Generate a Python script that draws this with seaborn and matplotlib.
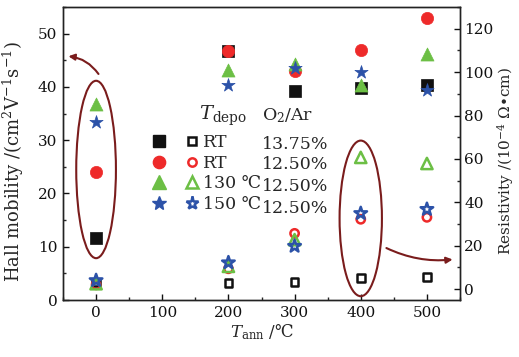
import numpy as np
import pandas as pd
import matplotlib
matplotlib.use("Agg")
import matplotlib.pyplot as plt
import seaborn as sns
from matplotlib.patches import Ellipse
from matplotlib.lines import Line2D
from matplotlib.legend_handler import HandlerTuple
from matplotlib.ticker import MultipleLocator

# ---------------- data ----------------
t_ann = [0, 200, 300, 400, 500]

# Hall mobility (left axis, filled markers)
mob_rt1375 = [11.7, 46.8, 39.2, 39.8, 40.4]
mob_rt1250 = [24.1, 46.8, 43.0, 47.0, 53.0]
mob_130 = [36.7, 43.2, 44.3, 40.3, 46.2]
mob_150 = [33.4, 40.3, 43.6, 42.8, 39.5]

# Resistivity (right axis, open markers)
res_rt1375 = [3.0, 2.8, 3.2, 5.0, 5.5]
res_rt1250 = [2.0, 9.4, 25.7, 32.2, 33.1]
res_130 = [2.5, 10.5, 22.8, 60.7, 57.9]
res_150 = [4.0, 12.2, 19.8, 34.9, 36.8]

series_names = ["RT", "RT", "130 \u2103", "150 \u2103"]
o2_ratio = ["13.75%", "12.50%", "12.50%", "12.50%"]
colors = ["#111111", "#ee2a2a", "#6cbf45", "#2c52a8"]
markers = ["s", "o", "^", "*"]
fill_sizes = [78, 78, 88, 100]
open_sizes = [30, 36, 66, 90]

x_ticks = [0, 100, 200, 300, 400, 500]
left_ticks = [0, 10, 20, 30, 40, 50]
right_ticks = [0, 20, 40, 60, 80, 100, 120]

mob = [mob_rt1375, mob_rt1250, mob_130, mob_150]
res = [res_rt1375, res_rt1250, res_130, res_150]

# ---------------- style ----------------
sns.set_style("ticks")
plt.rcParams["font.family"] = ["DejaVu Serif", "DejaVu Sans"]
plt.rcParams["mathtext.fontset"] = "dejavuserif"
plt.rcParams["font.size"] = 12

fig = plt.figure(figsize=(5.19, 3.57), dpi=100)
ax = fig.add_axes([63 / 519, 57 / 357, 397 / 519, 293 / 357])
ax2 = ax.twinx()

ec_dark = "#7a1c1c"

for i in range(4):
    df = pd.DataFrame({"T": t_ann, "mob": mob[i], "res": res[i]})
    sns.scatterplot(data=df, x="T", y="mob", ax=ax, marker=markers[i],
                    s=fill_sizes[i], color=colors[i], edgecolor=colors[i],
                    linewidth=0.5, zorder=3, legend=False)
    sns.scatterplot(data=df, x="T", y="res", ax=ax2, marker=markers[i],
                    s=open_sizes[i], facecolor="none", edgecolor=colors[i],
                    linewidth=1.8, zorder=3, legend=False)

ax.set_xlim(-50, 550)
ax.set_ylim(0, 55)
ax2.set_ylim(-5, 130)
ax.set_xticks(x_ticks)
ax.set_yticks(left_ticks)
ax2.set_yticks(right_ticks)
ax.xaxis.set_minor_locator(MultipleLocator(50))
ax.yaxis.set_minor_locator(MultipleLocator(5))
ax2.yaxis.set_minor_locator(MultipleLocator(10))

for a in (ax, ax2):
    a.tick_params(which="major", direction="in", length=4.5, width=1,
                  labelsize=11, colors="#111111", pad=4)
    a.tick_params(which="minor", direction="in", length=2.5, width=1)
    for sp in a.spines.values():
        sp.set_visible(True)
        sp.set_linewidth(1.0)
        sp.set_color("#222222")
ax.tick_params(axis="x", which="both", top=False)
ax.tick_params(axis="y", which="both", right=False)
ax2.tick_params(axis="y", which="major", pad=3)

ax.set_xlabel("$T_{\\rm ann}$ /\u2103", fontsize=12, labelpad=2)
ax.set_ylabel("Hall mobility /(cm$^2$V$^{-1}$s$^{-1}$)", fontsize=13)
ax2.set_ylabel("Resistivity /(10$^{-4}$ \u03a9\u2022cm)", fontsize=11)
ax.yaxis.set_label_coords(-0.093, 0.474)
ax2.yaxis.set_label_coords(1.088, 0.474)

# ellipses highlighting groups
ax.add_patch(Ellipse((0, 24.5), 60, 33.3, fill=False, ec=ec_dark, lw=1.5, zorder=2))
ax2.add_patch(Ellipse((400, 32.6), 64, 71.7, fill=False, ec=ec_dark, lw=1.5, zorder=2))

# arrows
ax.annotate("", xy=(-46, 45.8), xytext=(6, 42.0),
            arrowprops=dict(arrowstyle="-|>", color=ec_dark, lw=1.5,
                            mutation_scale=9, connectionstyle="arc3,rad=0.25"))
ax2.annotate("", xy=(543, 13.8), xytext=(435, 19.5),
             arrowprops=dict(arrowstyle="-|>", color=ec_dark, lw=1.5,
                             mutation_scale=9, connectionstyle="arc3,rad=0.15"))

# legend (filled + open marker pairs)
handles = []
for i in range(4):
    f = Line2D([], [], ls="none", marker=markers[i], color=colors[i],
               markersize=np.sqrt(fill_sizes[i]), mec=colors[i])
    o = Line2D([], [], ls="none", marker=markers[i], mfc="none", mec=colors[i],
               markersize=np.sqrt(open_sizes[i]), mew=1.8)
    handles.append((f, o))
ax.legend(handles, series_names, numpoints=1,
          handler_map={tuple: HandlerTuple(ndivide=None, pad=1.02)},
          handlelength=2.78, handletextpad=0.19, labelspacing=0.2,
          borderpad=0, borderaxespad=0, frameon=False, fontsize=12.5,
          loc="upper left", bbox_to_anchor=(0.2227, 0.565))

# header & O2/Ar column
ax.text(0.342, 0.628, "$T_{\\rm depo}$", transform=ax.transAxes, fontsize=14,
        ha="left", va="center")
ax.text(0.50, 0.628, "O$_2$/Ar", transform=ax.transAxes, fontsize=12.5,
        ha="left", va="center")
row_y = [0.53, 0.462, 0.388, 0.313]
for yy, txt in zip(row_y, o2_ratio):
    ax.text(0.5, yy, txt, transform=ax.transAxes, fontsize=12.5, ha="left", va="center")

fig.savefig("out.png", dpi=100)
